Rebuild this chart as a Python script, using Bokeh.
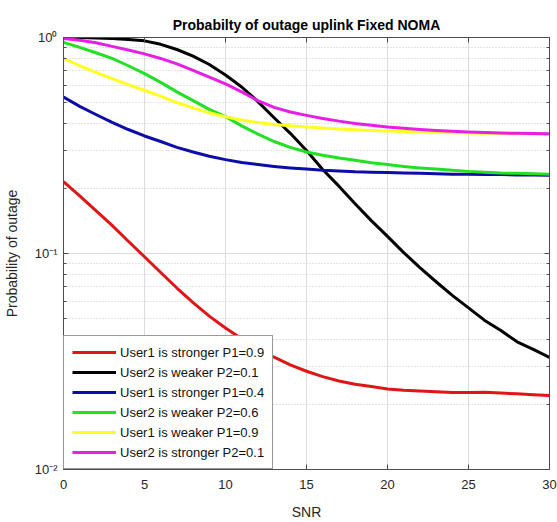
from bokeh.plotting import figure
from bokeh.models import (Legend, LegendItem, FixedTicker, LinearAxis, LogAxis,
                          CustomJSTickFormatter, Range1d)
from bokeh.embed import file_html
from bokeh.resources import INLINE

snr = list(range(31))

user1_strong_p09 = [0.215, 0.185, 0.158, 0.135, 0.114, 0.0966, 0.0817, 0.0692, 0.0592, 0.0513,
                    0.0452, 0.0403, 0.0363, 0.0331, 0.0305, 0.0285, 0.0269, 0.0257, 0.0248, 0.0242,
                    0.0236, 0.0233, 0.0231, 0.0229, 0.0227, 0.0227, 0.0228, 0.0226, 0.0224, 0.0222, 0.022]
user2_weak_p01 = [1.0, 1.0, 0.995, 0.99, 0.98, 0.965, 0.93, 0.88, 0.82, 0.75,
                  0.67, 0.59, 0.505, 0.425, 0.36, 0.3, 0.245, 0.205, 0.17, 0.142,
                  0.12, 0.101, 0.086, 0.074, 0.064, 0.056, 0.049, 0.044, 0.039, 0.036, 0.033]
user1_strong_p04 = [0.53, 0.48, 0.44, 0.405, 0.375, 0.35, 0.33, 0.31, 0.295, 0.282,
                    0.272, 0.264, 0.258, 0.253, 0.249, 0.246, 0.243, 0.241, 0.239, 0.238,
                    0.237, 0.236, 0.235, 0.234, 0.233, 0.233, 0.232, 0.232, 0.231, 0.231, 0.23]
user2_weak_p06 = [0.95, 0.9, 0.85, 0.8, 0.74, 0.68, 0.62, 0.56, 0.51, 0.465,
                  0.43, 0.39, 0.357, 0.33, 0.31, 0.295, 0.285, 0.277, 0.27, 0.263,
                  0.258, 0.253, 0.249, 0.246, 0.243, 0.24, 0.238, 0.236, 0.235, 0.234, 0.233]
user1_weak_p09 = [0.8, 0.74, 0.69, 0.645, 0.605, 0.57, 0.535, 0.5, 0.472, 0.448,
                  0.43, 0.415, 0.404, 0.396, 0.39, 0.385, 0.381, 0.377, 0.374, 0.371,
                  0.369, 0.367, 0.365, 0.364, 0.362, 0.361, 0.36, 0.359, 0.358, 0.357, 0.356]
user2_strong_p01 = [0.99, 0.97, 0.945, 0.91, 0.875, 0.84, 0.8, 0.755, 0.705, 0.655,
                    0.61, 0.56, 0.51, 0.475, 0.452, 0.436, 0.422, 0.41, 0.4, 0.392,
                    0.385, 0.38, 0.375, 0.371, 0.368, 0.365, 0.363, 0.361, 0.36, 0.359, 0.358]

series_labels = ["User1 is stronger P1=0.9", "User2 is weaker P2=0.1",
                 "User1 is stronger P1=0.4", "User2 is weaker P2=0.6",
                 "User1 is weaker P1=0.9", "User2 is stronger P2=0.1"]
series_values = [user1_strong_p09, user2_weak_p01, user1_strong_p04,
                 user2_weak_p06, user1_weak_p09, user2_strong_p01]
series_colors = ["#e01515", "#000000", "#0c0caa", "#22e022", "#ffff22", "#e61ee6"]

x_ticks = [0, 5, 10, 15, 20, 25, 30]
y_ticks = [0.01, 0.1, 1]
y_tick_labels = {0.01: "10⁻²", 0.1: "10⁻¹", 1: "10⁰"}
y_minor = [m * d for d in (0.01, 0.1) for m in range(2, 10)]

FONT = "Liberation Sans"
TXT = "#262626"

p = figure(width=557, height=522, output_backend="svg", toolbar_location=None,
           y_axis_type="log", x_range=Range1d(0, 30), y_range=Range1d(0.01, 1),
           min_border_left=63, min_border_right=8, min_border_top=37, min_border_bottom=52,
           title="Probabilty of outage uplink Fixed NOMA")

p.title.text_font = FONT
p.title.text_font_size = "14px"
p.title.text_font_style = "bold"
p.title.align = "center"
p.title.text_color = "#000000"

renderers = []
for vals, col in zip(series_values, series_colors):
    r = p.line(snr, vals, line_color=col, line_width=3, line_join="round")
    renderers.append(r)

# axes
p.xaxis.ticker = FixedTicker(ticks=x_ticks)
p.yaxis.ticker = FixedTicker(ticks=y_ticks, minor_ticks=y_minor)
p.yaxis.major_label_overrides = y_tick_labels
for ax in (p.xaxis[0], p.yaxis[0]):
    ax.major_label_text_font = FONT
    ax.major_label_text_font_size = "13px"
    ax.major_label_text_color = TXT
    ax.axis_label_text_font = FONT
    ax.axis_label_text_font_size = "14px"
    ax.axis_label_text_font_style = "normal"
    ax.axis_label_text_color = TXT
    ax.axis_line_color = "#4d4d4d"
    ax.major_tick_line_color = "#4d4d4d"
    ax.minor_tick_line_color = "#4d4d4d"
    ax.major_tick_in = 5
    ax.major_tick_out = 0
    ax.minor_tick_in = 3
    ax.minor_tick_out = 0
p.xaxis.minor_tick_line_color = None
p.xaxis.axis_label = "SNR"
p.yaxis.axis_label = "Probability of outage"
p.xaxis.major_label_standoff = 10
p.xaxis.axis_label_standoff = 12
p.yaxis.major_label_standoff = 6
p.yaxis.axis_label_standoff = 12

blank = CustomJSTickFormatter(code="return '';")
top = LinearAxis(ticker=FixedTicker(ticks=x_ticks), formatter=blank,
                 major_tick_in=5, major_tick_out=0, minor_tick_line_color=None,
                 axis_line_color="#4d4d4d", major_tick_line_color="#4d4d4d",
                 major_label_standoff=0)
right = LogAxis(ticker=FixedTicker(ticks=y_ticks, minor_ticks=y_minor), formatter=blank,
                major_tick_in=5, major_tick_out=0, minor_tick_in=3, minor_tick_out=0,
                axis_line_color="#4d4d4d", major_tick_line_color="#4d4d4d",
                minor_tick_line_color="#4d4d4d", major_label_standoff=0)
p.add_layout(top, "above")
p.add_layout(right, "right")

# grids
p.xgrid.grid_line_color = "#dcdcdc"
p.xgrid.grid_line_width = 1
p.ygrid.grid_line_color = "#dcdcdc"
p.ygrid.minor_grid_line_color = "#c8c8c8"
p.ygrid.minor_grid_line_dash = "1 2"
p.outline_line_color = "#4d4d4d"
p.background_fill_color = "white"
p.border_fill_color = "white"

legend = Legend(items=[LegendItem(label=l, renderers=[r]) for l, r in zip(series_labels, renderers)],
                location="bottom_left", margin=0, padding=8, spacing=4,
                glyph_width=44, glyph_height=16, label_height=16, label_standoff=4,
                label_text_font=FONT, label_text_font_size="13px", label_text_color="#111111",
                border_line_color="#333333", border_line_width=1,
                background_fill_color="white", background_fill_alpha=1.0)
p.add_layout(legend, "center")

open("out.html", "w").write(file_html(p, INLINE))
